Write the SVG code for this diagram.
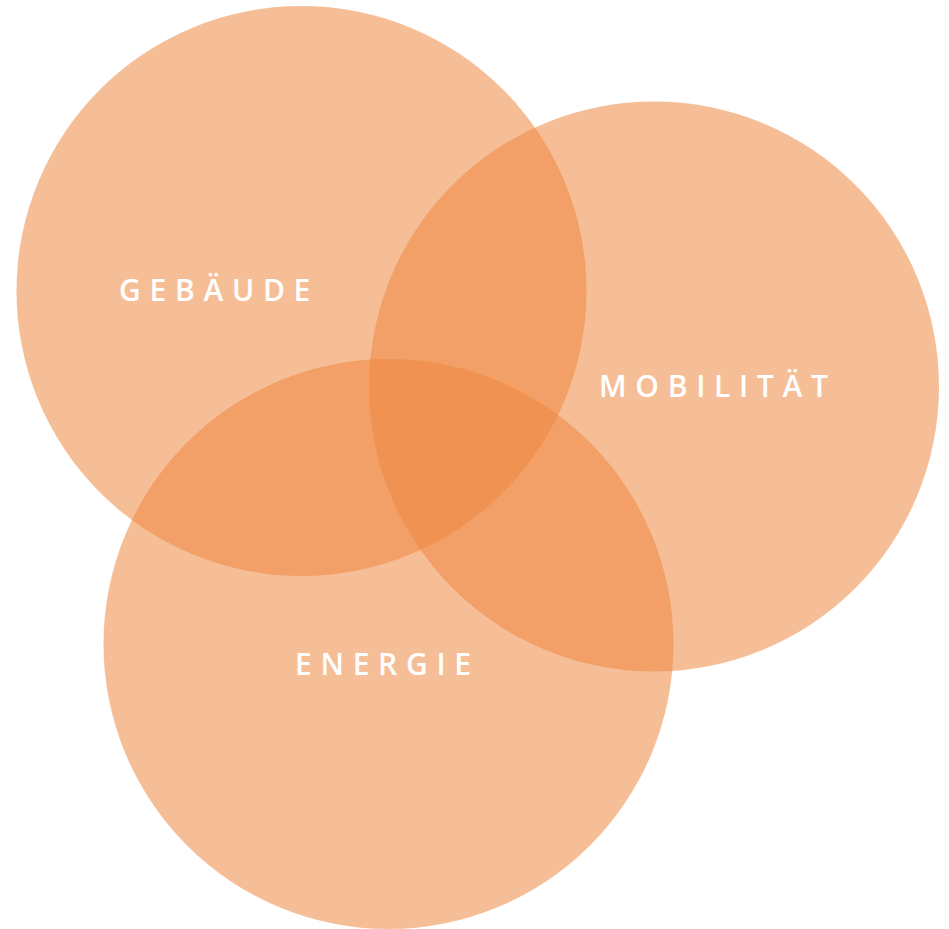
<svg xmlns="http://www.w3.org/2000/svg" width="949" height="929" viewBox="0 0 949 929">
<style>
.c{fill:rgb(239,135,62);fill-opacity:0.54}
.t{font-family:"Open Sans","Noto Sans",sans-serif;font-weight:600;font-size:30px;fill:#fff;letter-spacing:8.7px}
</style>
<rect width="949" height="929" fill="#fff"/>
<g id="gebaeude"><circle class="c" cx="301.5" cy="291" r="285"/></g>
<g id="mobilitaet"><circle class="c" cx="654" cy="386.5" r="285"/></g>
<g id="energie"><circle class="c" cx="388.5" cy="644" r="285"/></g>
<g id="labels">
<text class="t" x="119" y="301">GEBÄUDE</text>
<text class="t" x="599" y="397">MOBILITÄT</text>
<text class="t" x="295" y="675">ENERGIE</text>
</g>
<g id="connectors"/>
</svg>
